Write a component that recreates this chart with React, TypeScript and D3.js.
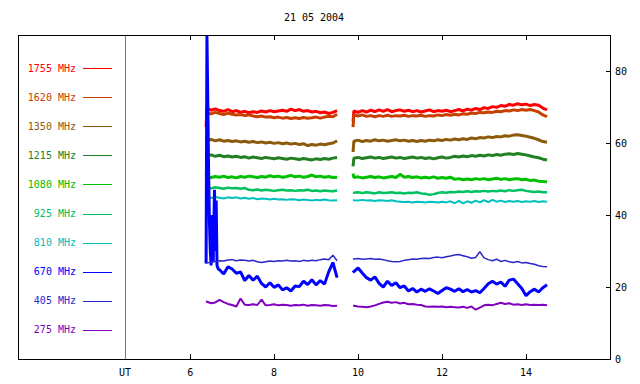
import { useRef, useEffect } from 'react';
import * as d3 from 'd3';

const title = '21 05 2004';
const freqs = ['1755', '1620', '1350', '1215', '1080', '925', '810', '670', '405', '275'];
const colors = ['#ff0000', '#c84000', '#8c5a0a', '#228022', '#00c000', '#00c060', '#00c0c0', '#0000ff', '#2828c8', '#8000c0'];
const widths = [3, 3, 3, 3, 3, 2.5, 2, 3, 1.5, 2];
const xTicks = [6, 8, 10, 12, 14];
const yTicks = [0, 20, 40, 60, 80];
const utHour = 4.45;

// sample times (UT hours), before and after the data gap
const hoursA = [6.38, 6.4, 6.5, 6.6, 6.7, 6.8, 6.9, 7.0, 7.1, 7.2, 7.3, 7.4, 7.5, 7.6, 7.7, 7.8, 7.9, 8.0, 8.1, 8.2, 8.3, 8.4, 8.5, 8.6, 8.7, 8.8, 8.9, 9.0, 9.1, 9.2, 9.3, 9.4, 9.5];
const hoursB = [9.88, 9.9, 10.0, 10.1, 10.2, 10.3, 10.4, 10.5, 10.6, 10.7, 10.8, 10.9, 11.0, 11.1, 11.2, 11.3, 11.4, 11.5, 11.6, 11.7, 11.8, 11.9, 12.0, 12.1, 12.2, 12.3, 12.4, 12.5, 12.6, 12.7, 12.8, 12.9, 13.0, 13.1, 13.2, 13.3, 13.4, 13.5, 13.6, 13.7, 13.8, 13.9, 14.0, 14.1, 14.2, 14.3, 14.4, 14.5];
// 670 MHz has a burst at the start, sampled finer
const hours670A = [6.38, 6.40, 6.42, 6.44, 6.46, 6.48, 6.50, 6.53, 6.55, 6.58, 6.60, 6.62, 6.64, 6.67, 6.7, 6.8, 6.9, 7.0, 7.1, 7.2, 7.3, 7.4, 7.5, 7.6, 7.7, 7.8, 7.9, 8.0, 8.1, 8.2, 8.3, 8.4, 8.5, 8.6, 8.7, 8.8, 8.9, 9.0, 9.1, 9.2, 9.3, 9.4, 9.5];

const s1755a = [64.5, 69.6, 69.1, 69.5, 69.0, 68.8, 69.3, 68.7, 69.0, 68.5, 68.8, 68.4, 68.7, 68.5, 68.9, 68.6, 69.0, 68.7, 68.9, 69.1, 68.8, 69.4, 69.0, 69.3, 68.8, 69.0, 68.6, 68.8, 68.4, 68.6, 68.2, 68.5, 69.0];
const s1755b = [66.0, 68.9, 68.5, 69.0, 68.6, 69.1, 68.7, 69.2, 68.8, 69.3, 68.7, 69.0, 69.2, 68.8, 69.1, 68.7, 69.0, 68.6, 68.9, 69.2, 68.7, 69.0, 68.8, 69.1, 68.7, 69.0, 69.3, 68.9, 69.4, 69.1, 69.6, 69.3, 69.8, 69.6, 70.1, 69.9, 70.4, 70.2, 70.7, 70.5, 70.9, 70.6, 70.8, 70.4, 70.7, 70.5, 69.7, 69.2];
const s1620a = [68.0, 68.4, 68.1, 68.5, 68.2, 67.9, 68.3, 68.0, 67.8, 67.9, 67.6, 67.8, 67.5, 67.3, 67.5, 67.2, 67.3, 67.0, 67.2, 66.9, 67.1, 66.8, 67.0, 66.8, 67.1, 66.9, 67.0, 67.2, 66.9, 67.2, 67.4, 67.3, 68.0];
const s1620b = [64.4, 67.8, 67.5, 67.8, 67.4, 67.6, 67.3, 67.6, 67.4, 67.7, 67.4, 67.6, 67.5, 67.7, 67.4, 67.6, 67.5, 67.7, 67.4, 67.6, 67.5, 67.8, 67.6, 67.9, 67.7, 68.0, 67.8, 68.1, 68.0, 68.3, 68.2, 68.5, 68.4, 68.6, 68.5, 68.8, 68.7, 69.0, 68.9, 69.2, 69.0, 69.3, 69.1, 69.3, 69.0, 68.6, 67.8, 67.3];
const s1350a = [61.2, 60.8, 61.0, 60.6, 60.9, 60.5, 60.7, 60.4, 60.6, 60.3, 60.5, 60.2, 60.4, 60.1, 60.3, 60.0, 60.2, 59.9, 60.1, 59.8, 60.0, 59.7, 59.9, 59.6, 59.8, 59.3, 59.6, 59.4, 59.7, 59.5, 59.8, 60.0, 60.6];
const s1350b = [57.5, 60.5, 60.8, 60.4, 60.7, 60.5, 60.9, 60.6, 60.8, 60.5, 60.7, 60.9, 60.6, 60.8, 60.5, 60.7, 60.4, 60.7, 60.5, 60.8, 60.6, 60.9, 60.7, 61.0, 60.8, 61.1, 60.9, 61.2, 61.0, 61.4, 61.2, 61.5, 61.4, 61.7, 61.5, 61.8, 61.7, 62.0, 61.9, 62.2, 62.3, 62.1, 61.9, 61.6, 61.3, 60.9, 60.4, 60.2];
const s1215a = [57.0, 56.5, 56.7, 56.3, 56.6, 56.2, 56.4, 56.1, 56.3, 56.0, 56.2, 55.8, 56.1, 55.9, 55.7, 56.0, 55.8, 55.6, 55.9, 55.7, 55.5, 55.8, 55.6, 55.4, 55.7, 55.5, 55.3, 55.6, 55.4, 55.7, 55.5, 55.8, 56.0];
const s1215b = [53.5, 55.8, 56.0, 55.7, 55.9, 56.1, 55.8, 56.0, 55.7, 55.9, 56.1, 55.8, 56.0, 55.7, 55.9, 56.1, 55.8, 56.0, 55.7, 55.9, 55.6, 55.9, 56.1, 55.8, 56.0, 56.3, 56.1, 56.4, 56.2, 56.5, 56.3, 56.6, 56.4, 56.7, 56.5, 56.8, 56.6, 56.9, 57.0, 56.8, 57.1, 56.9, 56.7, 56.4, 56.1, 55.9, 55.5, 55.3];
const s1080a = [51.6, 50.6, 50.4, 50.7, 50.5, 50.8, 50.4, 50.6, 50.3, 50.7, 50.5, 50.8, 50.6, 50.4, 50.7, 50.5, 50.9, 50.6, 50.8, 50.5, 50.7, 51.0, 50.6, 50.8, 50.5, 50.7, 51.1, 50.6, 50.8, 50.5, 50.7, 50.4, 50.5];
const s1080b = [51.5, 50.4, 50.6, 50.3, 50.5, 50.7, 50.4, 50.6, 50.3, 50.5, 50.7, 50.4, 51.3, 50.5, 50.7, 50.4, 50.6, 50.3, 50.5, 50.3, 50.6, 50.2, 50.4, 50.2, 50.5, 49.9, 50.1, 49.8, 50.0, 49.8, 50.1, 49.9, 50.1, 49.8, 50.0, 50.2, 49.9, 50.1, 49.8, 50.0, 50.1, 49.8, 49.9, 49.6, 49.7, 49.4, 49.3, 49.2];
const s925a = [48.0, 47.6, 47.4, 47.7, 47.5, 47.3, 47.6, 47.4, 47.5, 47.3, 47.5, 47.0, 46.9, 47.1, 46.8, 47.0, 46.9, 46.7, 46.9, 47.0, 46.8, 46.9, 46.7, 46.9, 46.8, 47.0, 46.7, 46.8, 46.6, 46.8, 46.7, 46.6, 46.8];
const s925b = [46.3, 46.2, 46.3, 46.1, 46.3, 46.2, 46.0, 46.3, 46.1, 46.2, 46.3, 46.1, 46.2, 46.0, 46.2, 46.1, 46.3, 46.0, 45.9, 45.6, 45.8, 46.1, 46.3, 46.2, 46.4, 46.3, 46.5, 46.4, 46.6, 46.4, 46.6, 46.5, 46.7, 46.5, 46.7, 46.6, 46.8, 46.6, 46.9, 46.7, 46.9, 47.0, 46.7, 46.5, 46.4, 46.5, 46.3, 46.3];
const s810a = [44.6, 44.9, 44.7, 45.0, 44.8, 44.6, 44.9, 44.7, 44.9, 44.6, 44.8, 44.5, 44.7, 44.4, 44.6, 44.5, 44.3, 44.5, 44.3, 44.4, 44.2, 44.4, 44.3, 44.1, 44.3, 44.2, 44.0, 44.2, 44.1, 44.3, 44.1, 44.0, 44.1];
const s810b = [44.2, 44.1, 44.0, 44.2, 44.0, 44.1, 43.9, 44.1, 44.0, 43.9, 44.1, 43.8, 43.7, 43.6, 43.7, 43.5, 43.7, 43.6, 43.5, 43.7, 43.6, 43.5, 43.7, 43.5, 43.8, 43.3, 43.9, 43.2, 43.8, 43.4, 44.0, 43.5, 44.1, 43.6, 44.2, 43.7, 44.0, 43.6, 43.9, 43.7, 43.9, 43.6, 43.8, 43.7, 43.9, 43.6, 43.8, 43.7];
const s670a = [26.5, 90, 72, 52, 38, 30, 26, 40, 27, 47, 30, 44, 26, 25, 24.8, 23.6, 25.6, 25.0, 23.8, 24.2, 21.8, 23.2, 21.9, 23.0, 21.0, 20.0, 21.2, 19.9, 20.6, 19.2, 19.8, 18.9, 20.3, 20.1, 21.6, 20.7, 22.0, 20.6, 21.8, 20.8, 24.2, 26.8, 22.6];
const s670b = [24.0, 24.3, 25.3, 23.9, 22.6, 21.9, 22.8, 21.0, 20.0, 21.6, 20.4, 21.2, 19.8, 20.3, 18.9, 19.6, 18.6, 19.4, 18.8, 19.5, 18.9, 18.2, 19.0, 19.8, 19.4, 18.8, 19.5, 18.7, 19.3, 18.6, 19.0, 18.4, 19.6, 20.9, 21.6, 20.8, 21.4, 20.2, 21.9, 22.2, 20.9, 19.6, 17.6, 18.7, 19.4, 18.6, 19.8, 20.6];
const s405a = [26.6, 26.7, 26.9, 27.1, 27.3, 27.2, 27.5, 27.6, 27.3, 27.5, 27.4, 27.2, 27.4, 27.0, 26.8, 27.0, 27.2, 27.1, 27.3, 27.2, 27.4, 27.2, 27.3, 27.1, 27.4, 27.2, 27.4, 27.3, 27.6, 27.8, 27.6, 28.8, 27.3];
const s405b = [27.7, 27.8, 27.9, 27.7, 27.8, 27.9, 27.7, 27.8, 27.6, 27.3, 27.1, 27.0, 27.1, 27.4, 27.6, 27.8, 27.7, 27.9, 28.0, 27.9, 28.2, 28.3, 28.1, 28.4, 28.6, 28.9, 29.0, 28.7, 28.4, 28.0, 28.2, 29.8, 28.1, 27.6, 27.3, 27.7, 27.1, 27.4, 27.0, 26.8, 27.1, 26.7, 26.8, 26.5, 26.3, 25.9, 25.7, 25.6];
const s275a = [16.1, 15.9, 15.5, 15.7, 16.4, 15.8, 15.3, 15.0, 14.6, 16.8, 15.1, 15.0, 15.2, 15.0, 16.5, 14.9, 15.0, 15.2, 14.9, 15.1, 15.0, 14.8, 15.0, 14.9, 15.1, 14.8, 15.0, 14.9, 14.8, 15.0, 14.9, 14.7, 14.8];
const s275b = [14.8, 14.8, 14.6, 14.5, 14.4, 14.6, 14.9, 15.3, 15.7, 15.9, 15.6, 15.8, 15.4, 15.6, 15.2, 15.3, 15.1, 15.0, 14.6, 14.5, 14.6, 14.5, 14.6, 14.4, 14.5, 14.4, 14.3, 14.5, 14.2, 14.6, 13.7, 14.3, 14.9, 15.1, 14.9, 15.3, 15.6, 15.3, 15.5, 15.1, 15.2, 15.0, 15.2, 15.0, 15.1, 15.0, 15.1, 14.9];

const seriesA = [s1755a, s1620a, s1350a, s1215a, s1080a, s925a, s810a, s670a, s405a, s275a];
const seriesB = [s1755b, s1620b, s1350b, s1215b, s1080b, s925b, s810b, s670b, s405b, s275b];

const App = () => {
  const svgRef = useRef(null);

  useEffect(() => {
    if (!svgRef.current) return;
    const width = 640;
    const height = 384;
    const frame = { left: 18, right: 610, top: 35, bottom: 359 };
    const font = '"DejaVu Sans Mono", monospace';

    const svg = d3.select(svgRef.current)
      .attr('width', width)
      .attr('height', height);
    svg.selectAll('*').remove();

    const x = d3.scaleLinear().domain([1.9, 16]).range([frame.left, frame.right]);
    const y = d3.scaleLinear().domain([0, 90]).range([frame.bottom, frame.top]);

    svg.append('rect').attr('width', width).attr('height', height).attr('fill', '#fff');

    svg.append('defs').append('clipPath').attr('id', 'plot-clip')
      .append('rect')
      .attr('x', frame.left).attr('y', frame.top)
      .attr('width', frame.right - frame.left).attr('height', frame.bottom - frame.top);

    // title
    svg.append('text')
      .attr('x', (frame.left + frame.right) / 2).attr('y', 21)
      .attr('text-anchor', 'middle')
      .attr('font-family', font).attr('font-size', 10)
      .text(title);

    // UT separator
    svg.append('line')
      .attr('x1', Math.round(x(utHour)) + 0.5).attr('x2', Math.round(x(utHour)) + 0.5)
      .attr('y1', frame.top).attr('y2', frame.bottom)
      .attr('stroke', '#777').attr('stroke-width', 1);
    svg.append('text')
      .attr('x', x(utHour)).attr('y', 376)
      .attr('text-anchor', 'middle')
      .attr('font-family', font).attr('font-size', 10)
      .text('UT');

    // data lines
    const line = d3.line<[number, number]>()
      .x(d => x(d[0]))
      .y(d => y(d[1]));

    const plot = svg.append('g').attr('clip-path', 'url(#plot-clip)');
    freqs.forEach((f, i) => {
      const hA = f === '670' ? hours670A : hoursA;
      const segA = seriesA[i].map((v, k) => [hA[k], v] as [number, number]);
      const segB = seriesB[i].map((v, k) => [hoursB[k], v] as [number, number]);
      [segA, segB].forEach(seg => {
        plot.append('path')
          .attr('d', line(seg))
          .attr('fill', 'none')
          .attr('stroke', colors[i])
          .attr('stroke-width', widths[i])
          .attr('stroke-linejoin', 'bevel');
      });
    });

    // legend
    freqs.forEach((f, i) => {
      const ly = 68 + i * 29.1;
      svg.append('text')
        .attr('x', 76).attr('y', ly + 3.5)
        .attr('text-anchor', 'end')
        .attr('font-family', font).attr('font-size', 10)
        .attr('fill', colors[i])
        .text(`${f} MHz`);
      svg.append('line')
        .attr('x1', 83).attr('x2', 112)
        .attr('y1', Math.round(ly) + 0.5).attr('y2', Math.round(ly) + 0.5)
        .attr('stroke', colors[i]).attr('stroke-width', 1);
    });

    // frame
    svg.append('rect')
      .attr('x', frame.left + 0.5).attr('y', frame.top + 0.5)
      .attr('width', frame.right - frame.left).attr('height', frame.bottom - frame.top)
      .attr('fill', 'none').attr('stroke', '#000').attr('stroke-width', 1);

    // x ticks, inward at top and bottom
    xTicks.forEach(t => {
      const px = Math.round(x(t)) + 0.5;
      svg.append('line').attr('x1', px).attr('x2', px)
        .attr('y1', frame.bottom).attr('y2', frame.bottom - 5)
        .attr('stroke', '#000');
      svg.append('line').attr('x1', px).attr('x2', px)
        .attr('y1', frame.top).attr('y2', frame.top + 5)
        .attr('stroke', '#000');
      svg.append('text')
        .attr('x', x(t)).attr('y', 376)
        .attr('text-anchor', 'middle')
        .attr('font-family', font).attr('font-size', 10)
        .text(t);
    });

    // y ticks on the right
    yTicks.forEach(t => {
      const py = Math.round(y(t)) + 0.5;
      svg.append('line').attr('x1', frame.right).attr('x2', frame.right - 4)
        .attr('y1', py).attr('y2', py)
        .attr('stroke', '#000');
      svg.append('text')
        .attr('x', 615).attr('y', y(t) + 3.5)
        .attr('font-family', font).attr('font-size', 10)
        .text(t);
    });

    return () => {
      svg.selectAll('*').remove();
    };
  }, []);

  return (
    <svg ref={svgRef} style={{ position: 'absolute', left: 0, top: 0, display: 'block' }} />
  );
};

export default App;
